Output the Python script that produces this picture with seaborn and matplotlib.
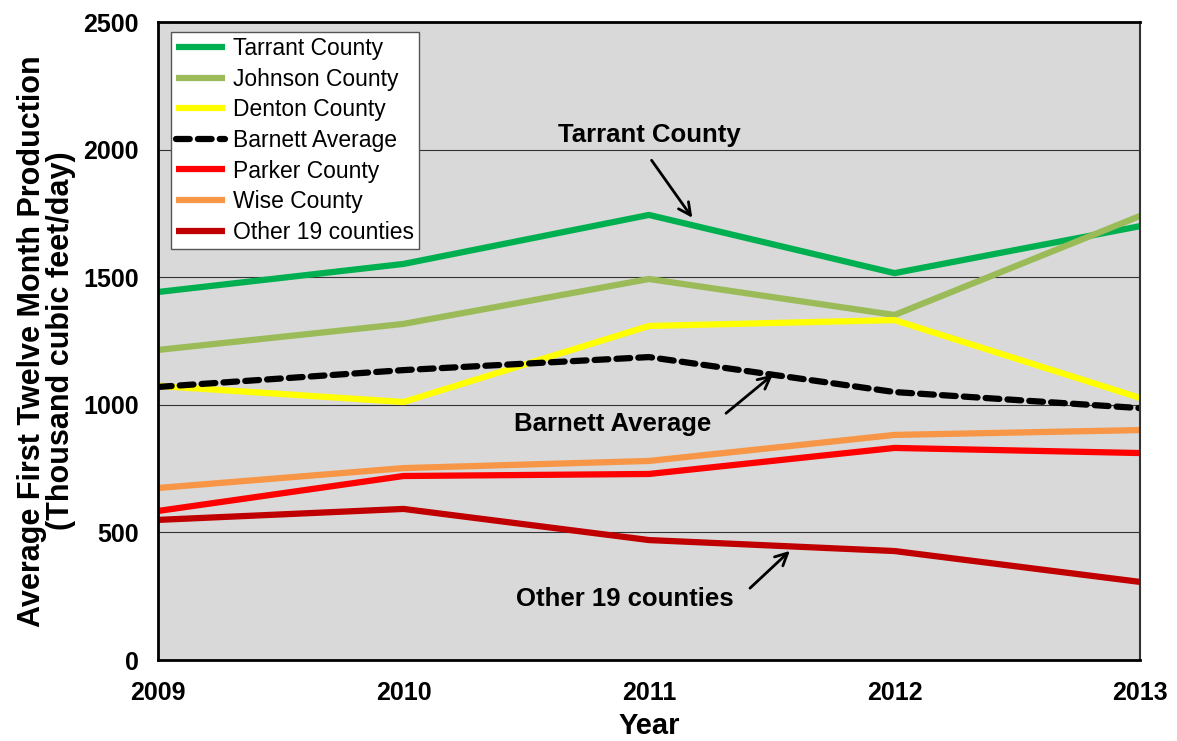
import pandas as pd
import seaborn as sns
import matplotlib.pyplot as plt

years = [2009, 2010, 2011, 2012, 2013]
series_names = ['Tarrant County', 'Johnson County', 'Denton County', 'Barnett Average',
                'Parker County', 'Wise County', 'Other 19 counties']
tarrant = [1442, 1552, 1744, 1516, 1700]
johnson = [1215, 1317, 1493, 1352, 1740]
denton = [1074, 1011, 1309, 1332, 1027]
barnett = [1070, 1136, 1187, 1050, 987]
parker = [584, 721, 729, 831, 811]
wise = [674, 752, 780, 882, 901]
other = [549, 592, 470, 427, 306]
colors = ['#00b050', '#9bbb59', '#ffff00', '#000000', '#ff0000', '#f79646', '#c00000']

values = [tarrant, johnson, denton, barnett, parker, wise, other]
rows = []
for name, vals in zip(series_names, values):
    for yr, v in zip(years, vals):
        rows.append({'Year': yr, 'Value': v, 'Series': name})
df = pd.DataFrame(rows)

sns.set_style('white')
plt.rcParams['font.family'] = ['Liberation Sans', 'DejaVu Sans']
plt.rcParams['text.color'] = 'black'
plt.rcParams['axes.labelcolor'] = 'black'
plt.rcParams['xtick.color'] = 'black'
plt.rcParams['ytick.color'] = 'black'

fig = plt.figure(figsize=(11.77, 7.41), dpi=100)
ax = fig.add_axes([0.1342, 0.1093, 0.8344, 0.861])
ax.set_facecolor('#d9d9d9')

for name, col in zip(series_names, colors):
    sub = df[df['Series'] == name]
    ls = (0, (2.2, 1.3)) if name == 'Barnett Average' else '-'
    sns.lineplot(data=sub, x='Year', y='Value', color=col, linewidth=4.5,
                 linestyle=ls, label=name, ax=ax, solid_capstyle='butt',
                 dash_capstyle='round')

ax.set_xlim(2009, 2013)
ax.set_ylim(0, 2500)
ax.set_xticks(years)
ax.set_yticks(range(0, 2501, 500))
ax.yaxis.grid(True, color='#333333', linewidth=0.8)
ax.xaxis.grid(False)
ax.set_axisbelow(True)
for s in ['left', 'bottom', 'top']:
    ax.spines[s].set_color('black')
    ax.spines[s].set_linewidth(2)
ax.spines['right'].set_color('#333333')
ax.spines['right'].set_linewidth(1.5)
ax.tick_params(axis='both', direction='out', length=6, width=1.2, color='black',
               labelsize=18, pad=8)
ax.tick_params(axis='x', pad=9)
for lab in ax.get_xticklabels() + ax.get_yticklabels():
    lab.set_fontweight('bold')

ax.set_xlabel('Year', fontsize=21, fontweight='bold', labelpad=5)
ax.set_ylabel('Average First Twelve Month Production\n(Thousand cubic feet/day)',
              fontsize=22, fontweight='bold', labelpad=5, linespacing=0.95)

leg = ax.legend(loc='upper left', bbox_to_anchor=(0.013, 0.984), borderaxespad=0,
                fontsize=16.5, frameon=True, fancybox=False, edgecolor='#555555',
                framealpha=1, handlelength=2.15, handletextpad=0.35,
                labelspacing=0.33, borderpad=0.22)
leg.get_frame().set_linewidth(1.0)

arrow = dict(arrowstyle='->', color='black', lw=2, mutation_scale=22)
ax.text(2011.0, 2057, 'Tarrant County', fontsize=18.5, fontweight='bold',
        ha='center', va='center')
ax.annotate('', xy=(2011.183, 1724), xytext=(2011.004, 1967), arrowprops=arrow)
ax.text(2010.85, 925, 'Barnett Average', fontsize=18.5, fontweight='bold',
        ha='center', va='center')
ax.annotate('', xy=(2011.513, 1125), xytext=(2011.305, 960), arrowprops=arrow)
ax.text(2010.9, 239, 'Other 19 counties', fontsize=18.5, fontweight='bold',
        ha='center', va='center')
ax.annotate('', xy=(2011.582, 435), xytext=(2011.403, 274), arrowprops=arrow)

fig.savefig('out.png', dpi=100)
